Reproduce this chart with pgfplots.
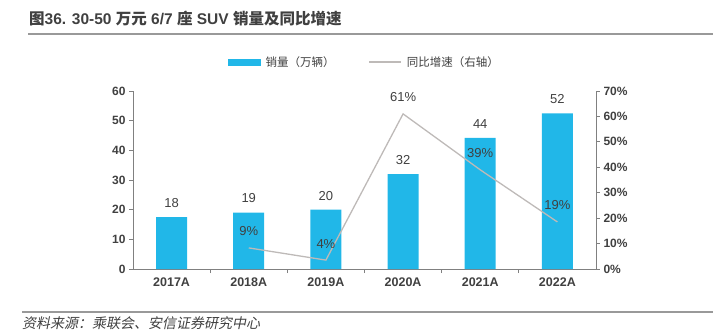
\documentclass[border=0pt]{standalone}
\usepackage{pgfplots}
\pgfplotsset{compat=1.18}
\usepackage{fontspec}
\setmainfont{Liberation Sans}
\newfontfamily\cjk{Noto Sans CJK SC}
\newfontfamily\cjkslant[FakeSlant=0.2]{Noto Sans CJK SC}
\definecolor{barblue}{RGB}{33,183,232}
\definecolor{linegray}{RGB}{190,186,184}
\definecolor{axgray}{RGB}{128,128,128}
\definecolor{txtgray}{RGB}{64,64,64}
\begin{document}
\begin{tikzpicture}
\useasboundingbox (0pt,0pt) rectangle (713pt,335pt);
% title
\node[anchor=base west,inner sep=0pt,font=\bfseries\fontsize{15.5}{17}\selectfont,text=txtgray] at (29pt,310pt) {{\cjk\bfseries 图}36. 30-50 {\cjk\bfseries 万元} 6/7 {\cjk\bfseries 座} SUV {\cjk\bfseries 销量及同比增速}};
\draw[line width=2pt,color=axgray!80] (28pt,301pt) -- (713pt,301pt);
% source
\draw[line width=2pt,color=axgray!80] (22pt,23pt) -- (713pt,23pt);
\node[anchor=base west,inner sep=0pt,font=\cjkslant\fontsize{14}{16}\selectfont,text=txtgray] at (22pt,6pt) {资料来源：乘联会、安信证券研究中心};
\begin{axis}[
  at={(133pt,66pt)}, anchor=south west,
  scale only axis, width=463pt, height=178pt,
  xmin=-0.5, xmax=5.5, ymin=0, ymax=60,
  axis x line*=bottom, axis y line*=left,
  axis line style={color=axgray, line width=0.8pt},
  xtick={0,1,2,3,4,5},
  xticklabels={2017A,2018A,2019A,2020A,2021A,2022A},
  major x tick style={draw=none},
  minor xtick={0.5,1.5,2.5,3.5,4.5},
  minor x tick style={color=axgray, line width=0.8pt},
  minor tick length=4pt,
  ytick={0,10,...,60},
  major y tick style={color=axgray, line width=0.8pt},
  major tick length=4pt,
  tick align=outside,
  x tick label style={font=\bfseries\fontsize{12.5}{14}\selectfont, text=txtgray, yshift=-1pt},
  y tick label style={font=\bfseries\fontsize{12}{14}\selectfont, text=txtgray},
  /pgf/number format/assume math mode=true,
  ybar, bar width=31pt,
  nodes near coords,
  point meta=explicit symbolic,
  every node near coord/.append style={font=\fontsize{13}{15}\selectfont, text=txtgray, yshift=6pt},
  clip=false,
]
\addplot[fill=barblue, draw=none] coordinates {(0,17.5)[18] (1,19)[19] (2,20)[20] (3,32)[32] (4,44.2)[44] (5,52.5)[52]};
\end{axis}
\begin{axis}[
  at={(133pt,66pt)}, anchor=south west,
  scale only axis, width=463pt, height=178pt,
  xmin=-0.5, xmax=5.5, ymin=0, ymax=70,
  axis x line=none, axis y line*=right,
  axis line style={color=axgray, line width=0.8pt},
  ytick={0,10,...,70},
  yticklabel={\pgfmathprintnumber{\tick}\%},
  major y tick style={color=axgray, line width=0.8pt},
  major tick length=4pt,
  tick align=outside,
  y tick label style={font=\bfseries\fontsize{12}{14}\selectfont, text=txtgray},
  /pgf/number format/assume math mode=true,
  clip=false,
  legend style={at={(0.5,1.163)}, anchor=center, draw=none, fill=none,
    font=\cjk\fontsize{11.5}{13}\selectfont, text=txtgray,
    /tikz/every odd column/.append style={column sep=3pt},
    /tikz/every even column/.append style={column sep=32pt}},
  legend columns=2,
  legend cell align=left,
]
\addlegendimage{legend image code/.code={\fill[barblue] (0pt,-3pt) rectangle (32pt,3pt);}}
\addlegendentry{销量（万辆）}
\addplot[color=linegray, line width=1.3pt, mark=none,
  legend image code/.code={\draw[linegray, line width=1.3pt] (0pt,0pt) -- (32pt,0pt);},
  nodes near coords, point meta=explicit symbolic,
  every node near coord/.append style={font=\fontsize{13}{15}\selectfont, text=txtgray, yshift=8pt}]
  coordinates {(1,8.3)[9\%] (2,3.5)[4\%] (3,61)[61\%] (4,39)[39\%] (5,18.5)[19\%]};
\addlegendentry{同比增速（右轴）}
\end{axis}
\end{tikzpicture}
\end{document}
